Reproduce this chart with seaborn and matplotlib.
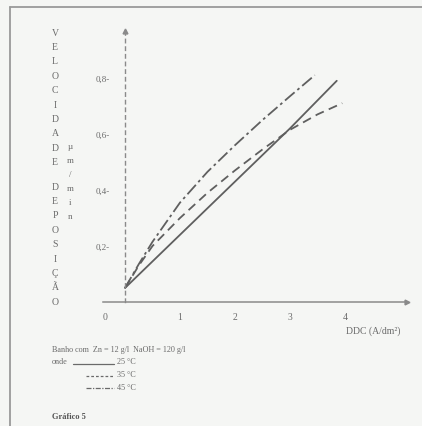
import matplotlib
matplotlib.use("Agg")
import matplotlib.pyplot as plt
from matplotlib.lines import Line2D
import pandas as pd
import seaborn as sns

# Deposition rate (µm/min) versus cathodic current density DDC (A/dm²)
ddc_25 = [0.0, 1.0, 2.0, 3.0, 3.85]
vel_25 = [0.05, 0.24, 0.43, 0.62, 0.79]

ddc_35 = [0.0, 0.25, 0.5, 1.0, 1.5, 2.0, 2.5, 3.0, 3.5, 3.95]
vel_35 = [0.05, 0.13, 0.20, 0.30, 0.39, 0.47, 0.545, 0.615, 0.67, 0.71]

ddc_45 = [0.0, 0.25, 0.5, 1.0, 1.5, 2.0, 2.5, 3.0, 3.45]
vel_45 = [0.05, 0.135, 0.215, 0.355, 0.465, 0.56, 0.65, 0.735, 0.81]

temps = ["25 °C", "35 °C", "45 °C"]
x_ticks = [0, 1, 2, 3, 4]
x_tick_labels = ["", "1", "2", "3", "4"]
y_ticks = [0.2, 0.4, 0.6, 0.8]
y_tick_labels = ["0,2-", "0,4-", "0,6-", "0,8-"]
y_title = "VELOCIDADE DEPOSIÇÃO"
y_unit = "µm/min"
x_title = "DDC (A/dm²)"
bath_text = "Banho com  Zn = 12 g/l  NaOH = 120 g/l"
caption = "Gráfico 5"

df = pd.concat([
    pd.DataFrame({"ddc": ddc_25, "vel": vel_25, "temp": temps[0]}),
    pd.DataFrame({"ddc": ddc_35, "vel": vel_35, "temp": temps[1]}),
    pd.DataFrame({"ddc": ddc_45, "vel": vel_45, "temp": temps[2]}),
], ignore_index=True)

sns.set_style("white")
plt.rcParams["font.family"] = ["Liberation Serif", "DejaVu Serif"]

INK = "#6b6b6b"
AXIS = "#8a8a8a"
BG = "#f5f6f4"
W, H = 422, 427

fig = plt.figure(figsize=(W / 100, H / 100), dpi=100)
fig.patch.set_facecolor(BG)


def fx(px):
    return px / W


def fy(py):
    return 1 - py / H


# axes box: x axis line from 103 px to 407 px, y=0 at 303 px, top at 32 px
x0_px, x_unit = 125.0, 55.0
y0_px, y_unit_px = 303.0, 280.0
left_px, right_px, top_px = 103.0, 407.0, 32.0
ax = fig.add_axes([fx(left_px), fy(y0_px), (right_px - left_px) / W, (y0_px - top_px) / H])
ax.set_facecolor("none")

sns.lineplot(
    data=df, x="ddc", y="vel", style="temp", style_order=temps,
    dashes={temps[0]: "", temps[1]: (5, 3), temps[2]: (7, 2, 1.5, 2)},
    color="#5f5f5f", linewidth=1.3, estimator=None, sort=False,
    legend=False, ax=ax,
)

ax.set_xlim((left_px - x0_px) / x_unit, (right_px - x0_px) / x_unit)
ax.set_ylim(0, (y0_px - top_px) / y_unit_px)
ax.set_xlabel("")
ax.set_ylabel("")

for side in ("top", "right"):
    ax.spines[side].set_visible(False)
ax.spines["bottom"].set_color(AXIS)
ax.spines["bottom"].set_linewidth(1.1)
ax.spines["left"].set_position(("data", 0))
ax.spines["left"].set_color(AXIS)
ax.spines["left"].set_linewidth(1.0)
ax.spines["left"].set_linestyle((0, (2.5, 3)))

ax.set_xticks(x_ticks)
ax.set_xticklabels(x_tick_labels)
ax.set_yticks(y_ticks)
ax.set_yticklabels(y_tick_labels)
ax.tick_params(axis="x", direction="inout", length=7, width=1.0, color=AXIS,
               labelsize=7, labelcolor=INK, pad=4)
ax.tick_params(axis="y", length=0, labelsize=6.5, labelcolor=INK, pad=11)

# axis arrow heads
ax.plot([1], [0], marker=">", markersize=3.5, color=AXIS,
        transform=ax.transAxes, clip_on=False)
ax.plot([0], [1], marker="^", markersize=3.5, color=AXIS,
        transform=ax.get_xaxis_transform(), clip_on=False)

# origin label, placed left of the vertical axis
fig.text(fx(105), fy(318), "0", ha="center", va="center", fontsize=7, color=INK)
fig.text(fx(373), fy(331), x_title, ha="center", va="center", fontsize=7, color=INK)

# vertical stacked axis title
first, second = y_title.split(" ")
for i, ch in enumerate(first):
    fig.text(fx(55), fy(33 + i * 14.4), ch, ha="center", va="center", fontsize=7, color=INK)
for i, ch in enumerate(second):
    fig.text(fx(55), fy(187 + i * 14.4), ch, ha="center", va="center", fontsize=7, color=INK)
for i, ch in enumerate(y_unit):
    fig.text(fx(70), fy(147 + i * 14.0), ch, ha="center", va="center", fontsize=6.5, color=INK)

# bath composition and line key
fig.text(fx(52), fy(350), bath_text, ha="left", va="center", fontsize=5.9, color=INK)
fig.text(fx(52), fy(362), "onde", ha="left", va="center", fontsize=5.9, color=INK)
key_styles = ["-", (0, (2.2, 1.6)), (0, (4, 1.2, 1, 1.2))]
key_rows = [(73, 365, 362), (86, 377, 375), (86, 389, 388)]
for t, ls, (xs, ly, ty) in zip(temps, key_styles, key_rows):
    fig.add_artist(Line2D([fx(xs), fx(114)], [fy(ly), fy(ly)], color="#6a6a6a",
                          linewidth=0.9, linestyle=ls))
    fig.text(fx(117), fy(ty), t, ha="left", va="center", fontsize=5.9, color=INK)

fig.text(fx(52), fy(417), caption, ha="left", va="center", fontsize=6.0,
         fontweight="bold", color="#555555")

# page frame
fig.add_artist(Line2D([fx(10), fx(10)], [fy(8), 0], color="#9a9a9a", linewidth=1.3))
fig.add_artist(Line2D([fx(10), 1], [fy(8), fy(8)], color="#9a9a9a", linewidth=1.3))

fig.savefig("out.png", dpi=100, facecolor=BG)
